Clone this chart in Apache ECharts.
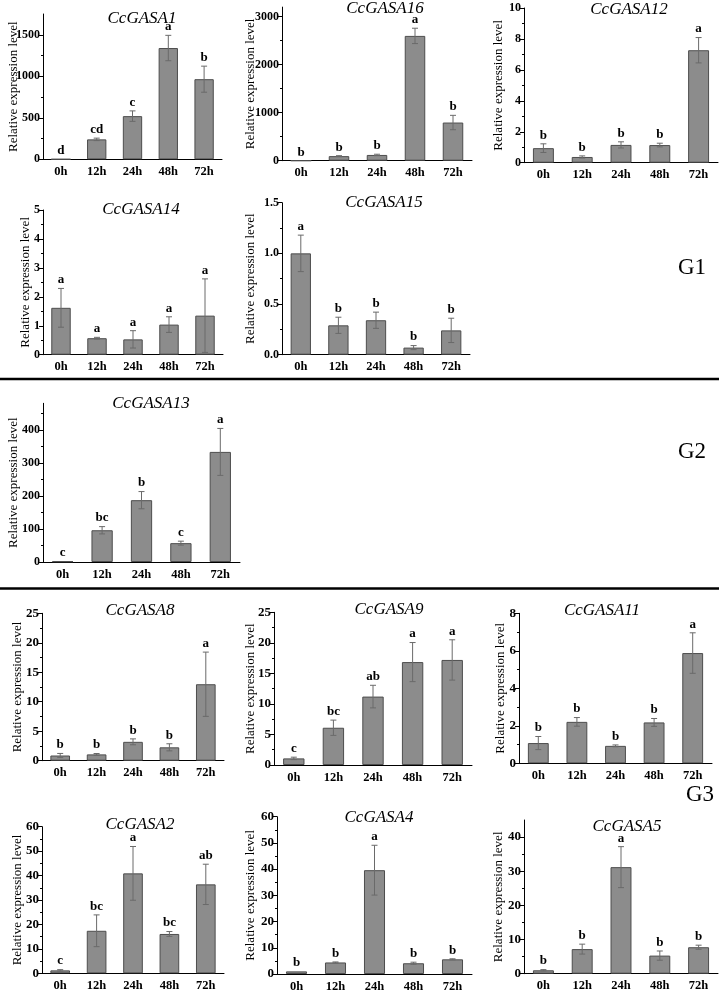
<!DOCTYPE html>
<html><head><meta charset="utf-8">
<script src="https://cdn.jsdelivr.net/npm/echarts@6/dist/echarts.min.js"></script>
<style>html,body{margin:0;padding:0;background:#fff}#c{width:719px;height:991px}</style>
</head><body><div id="c"></div>
<script>
// ---------------- data ----------------
const hours = ['0h', '12h', '24h', '48h', '72h'];

const gasa1Mean = [1, 240, 520, 1340, 965];
const gasa1Err  = [0.3, 15, 63, 153, 157];
const gasa1Sig  = ['d', 'cd', 'c', 'a', 'b'];
const gasa1Ticks = ['0', '500', '1000', '1500'];

const gasa16Mean = [1, 95, 120, 2600, 795];
const gasa16Err  = [0.2, 10, 15, 160, 150];
const gasa16Sig  = ['b', 'b', 'b', 'a', 'b'];
const gasa16Ticks = ['0', '1000', '2000', '3000'];

const gasa12Mean = [0.94, 0.37, 1.15, 1.14, 7.27];
const gasa12Err  = [0.28, 0.07, 0.2, 0.12, 0.82];
const gasa12Sig  = ['b', 'b', 'b', 'b', 'a'];
const gasa12Ticks = ['0', '2', '4', '6', '8', '10'];

const gasa14Mean = [1.62, 0.57, 0.53, 1.04, 1.35];
const gasa14Err  = [0.67, 0.03, 0.3, 0.27, 1.27];
const gasa14Sig  = ['a', 'a', 'a', 'a', 'a'];
const gasa14Ticks = ['0', '1', '2', '3', '4', '5'];

const gasa15Mean = [1.0, 0.29, 0.34, 0.07, 0.24];
const gasa15Err  = [0.18, 0.08, 0.08, 0.02, 0.12];
const gasa15Sig  = ['a', 'b', 'b', 'b', 'b'];
const gasa15Ticks = ['0.0', '0.5', '1.0', '1.5'];

const gasa13Mean = [2, 96, 187, 57, 333];
const gasa13Err  = [0.5, 11, 26, 6, 71];
const gasa13Sig  = ['c', 'bc', 'b', 'c', 'a'];
const gasa13Ticks = ['0', '100', '200', '300', '400'];

const gasa8Mean = [0.88, 1.07, 3.2, 2.27, 12.97];
const gasa8Err  = [0.35, 0.15, 0.5, 0.6, 5.45];
const gasa8Sig  = ['b', 'b', 'b', 'b', 'a'];
const gasa8Ticks = ['0', '5', '10', '15', '20', '25'];

const gasa9Mean = [1.08, 6.1, 11.2, 16.85, 17.2];
const gasa9Err  = [0.2, 1.25, 1.85, 3.2, 3.3];
const gasa9Sig  = ['c', 'bc', 'ab', 'a', 'a'];
const gasa9Ticks = ['0', '5', '10', '15', '20', '25'];

const gasa11Mean = [1.08, 2.21, 0.93, 2.18, 5.88];
const gasa11Err  = [0.35, 0.23, 0.05, 0.21, 1.08];
const gasa11Sig  = ['b', 'b', 'b', 'b', 'a'];
const gasa11Ticks = ['0', '2', '4', '6', '8'];

const gasa2Mean = [1.2, 17.4, 40.9, 16.1, 36.4];
const gasa2Err  = [0.3, 6.5, 11, 1, 8.25];
const gasa2Sig  = ['c', 'bc', 'a', 'bc', 'ab'];
const gasa2Ticks = ['0', '10', '20', '30', '40', '50', '60'];

const gasa4Mean = [1.0, 4.4, 39.6, 4.1, 5.6];
const gasa4Err  = [0.1, 0.2, 9.5, 0.4, 0.2];
const gasa4Sig  = ['b', 'b', 'a', 'b', 'b'];
const gasa4Ticks = ['0', '10', '20', '30', '40', '50', '60'];

const gasa5Mean = [1.0, 7.2, 31.2, 5.3, 7.75];
const gasa5Err  = [0.2, 1.45, 6.0, 1.35, 0.6];
const gasa5Sig  = ['b', 'b', 'a', 'b', 'b'];
const gasa5Ticks = ['0', '10', '20', '30', '40'];

const groupLabels = ['G1', 'G2', 'G3'];

// ---------------- layout ----------------
const FONT = '"Liberation Serif", "Times New Roman", serif';
const panels = [
  {title:'CcGASA1',  mean:gasa1Mean,  err:gasa1Err,  sig:gasa1Sig,  ticks:gasa1Ticks,  max:1750, g:[43,14,179,145.3],   gap:23, t:[142,18.5], fs:12},
  {title:'CcGASA16', mean:gasa16Mean, err:gasa16Err, sig:gasa16Sig, ticks:gasa16Ticks, max:3200, g:[282,7.1,190,153.6], gap:25, t:[385,8.5],  fs:12},
  {title:'CcGASA12', mean:gasa12Mean, err:gasa12Err, sig:gasa12Sig, ticks:gasa12Ticks, max:10,   g:[524,8,194,154.7],   gap:19, t:[629,10],   fs:12},
  {title:'CcGASA14', mean:gasa14Mean, err:gasa14Err, sig:gasa14Sig, ticks:gasa14Ticks, max:5,    g:[43,210,180,144.7],  gap:11, t:[141,210],  fs:12},
  {title:'CcGASA15', mean:gasa15Mean, err:gasa15Err, sig:gasa15Sig, ticks:gasa15Ticks, max:1.5,  g:[282,202.7,188,152], gap:25, t:[384,202.5],fs:12},
  {title:'CcGASA13', mean:gasa13Mean, err:gasa13Err, sig:gasa13Sig, ticks:gasa13Ticks, max:480,  g:[43,403.3,197,158.7],gap:23, t:[151,403.5],fs:12},
  {title:'CcGASA8',  mean:gasa8Mean,  err:gasa8Err,  sig:gasa8Sig,  ticks:gasa8Ticks,  max:25,   g:[42,613.3,182,147.4],gap:18, t:[140,611],  fs:13},
  {title:'CcGASA9',  mean:gasa9Mean,  err:gasa9Err,  sig:gasa9Sig,  ticks:gasa9Ticks,  max:25,   g:[274,612.3,198,152.7],gap:17,t:[389,610],  fs:13},
  {title:'CcGASA11', mean:gasa11Mean, err:gasa11Err, sig:gasa11Sig, ticks:gasa11Ticks, max:8,    g:[519,613.3,193,150], gap:12, t:[602,611],  fs:13},
  {title:'CcGASA2',  mean:gasa2Mean,  err:gasa2Err,  sig:gasa2Sig,  ticks:gasa2Ticks,  max:60,   g:[42,826.7,182,146.6],gap:18, t:[140,824.6],fs:13},
  {title:'CcGASA4',  mean:gasa4Mean,  err:gasa4Err,  sig:gasa4Sig,  ticks:gasa4Ticks,  max:60,   g:[277,816.7,195,157.3],gap:20,t:[379,817.5],fs:13},
  {title:'CcGASA5',  mean:gasa5Mean,  err:gasa5Err,  sig:gasa5Sig,  ticks:gasa5Ticks,  max:45,   g:[524,820,194,153.7], gap:19, t:[627,827],  fs:13}
];
const groupPos = [[692, 268], [692, 452], [700, 795]];
const separators = [379, 588.5];

// ---------------- build ----------------
const grids = [], xAxes = [], yAxes = [], series = [], graphics = [];

panels.forEach((p, i) => {
  const tickVals = p.ticks.map(parseFloat);
  const labelMap = {};
  p.ticks.forEach((s, k) => { labelMap[tickVals[k]] = s; });
  grids.push({left:p.g[0], top:p.g[1], width:p.g[2], height:p.g[3], containLabel:false, outerBoundsMode:'none'});
  xAxes.push({
    type:'category', gridIndex:i, data:hours, boundaryGap:true,
    axisLine:{show:true, lineStyle:{color:'#000', width:1}},
    axisTick:{show:false},
    axisLabel:{fontFamily:FONT, fontWeight:'bold', fontSize:12.5, color:'#000', margin:6},
    splitLine:{show:false}
  });
  yAxes.push({
    type:'value', gridIndex:i, min:0, max:p.max, interval:tickVals[1] - tickVals[0],
    name:'Relative expression level', nameLocation:'middle', nameGap:p.gap, nameRotate:90,
    nameMoveOverlap:false,
    nameTextStyle:{fontFamily:FONT, fontSize:13, color:'#000'},
    axisLine:{show:true, lineStyle:{color:'#000', width:1}},
    axisTick:{show:true, inside:false, length:4, lineStyle:{color:'#000', width:1}, customValues:tickVals},
    minorTick:{show:true, splitNumber:2, length:2, lineStyle:{color:'#000', width:1}},
    axisLabel:{customValues:tickVals, formatter:v => (labelMap[v] !== undefined ? labelMap[v] : ''),
      fontFamily:FONT, fontWeight:'bold', fontSize:p.fs, color:'#000', margin:3},
    splitLine:{show:false}, minorSplitLine:{show:false}
  });
  series.push({
    type:'bar', xAxisIndex:i, yAxisIndex:i, data:p.mean, barWidth:'54%',
    itemStyle:{color:'#8c8c8c', borderColor:'#4d4d4d', borderWidth:1},
    silent:true
  });
  series.push({
    type:'custom', xAxisIndex:i, yAxisIndex:i, z:5, silent:true,
    data:p.mean.map((m, k) => [k, m, p.err[k]]),
    encode:{x:0, y:1},
    renderItem:function(params, api){
      const k = api.value(0), m = api.value(1), e = api.value(2);
      const t = api.coord([k, m + e]);
      const b = api.coord([k, Math.max(m - e, 0)]);
      const c = 3;
      const children = [];
      if (b[1] - t[1] > 0.6) {
        const ls = {stroke:'#6a6a6a', lineWidth:1};
        children.push({type:'line', shape:{x1:t[0], y1:t[1], x2:b[0], y2:b[1]}, style:ls});
        children.push({type:'line', shape:{x1:t[0]-c, y1:t[1], x2:t[0]+c, y2:t[1]}, style:ls});
        children.push({type:'line', shape:{x1:b[0]-c, y1:b[1], x2:b[0]+c, y2:b[1]}, style:ls});
      }
      children.push({type:'text', style:{text:p.sig[params.dataIndex], x:t[0], y:t[1] - 2,
        align:'center', verticalAlign:'bottom', font:'bold 13px ' + FONT, fill:'#000'}});
      return {type:'group', children};
    }
  });
  graphics.push({type:'text', x:p.t[0], y:p.t[1], silent:true,
    style:{text:p.title, align:'center', verticalAlign:'middle', font:'italic 17px ' + FONT, fill:'#000'}});
});

separators.forEach(y => {
  graphics.push({type:'line', silent:true, shape:{x1:0, y1:y, x2:719, y2:y}, style:{stroke:'#000', lineWidth:2.5}});
});
groupLabels.forEach((g, k) => {
  graphics.push({type:'text', silent:true, x:groupPos[k][0], y:groupPos[k][1],
    style:{text:g, align:'center', verticalAlign:'middle', font:'23px ' + FONT, fill:'#000'}});
});

const chart = echarts.init(document.getElementById('c'), null, {renderer:'canvas'});
chart.setOption({
  animation:false, backgroundColor:'#fff',
  grid:grids, xAxis:xAxes, yAxis:yAxes, series:series, graphic:graphics
});
</script></body></html>
